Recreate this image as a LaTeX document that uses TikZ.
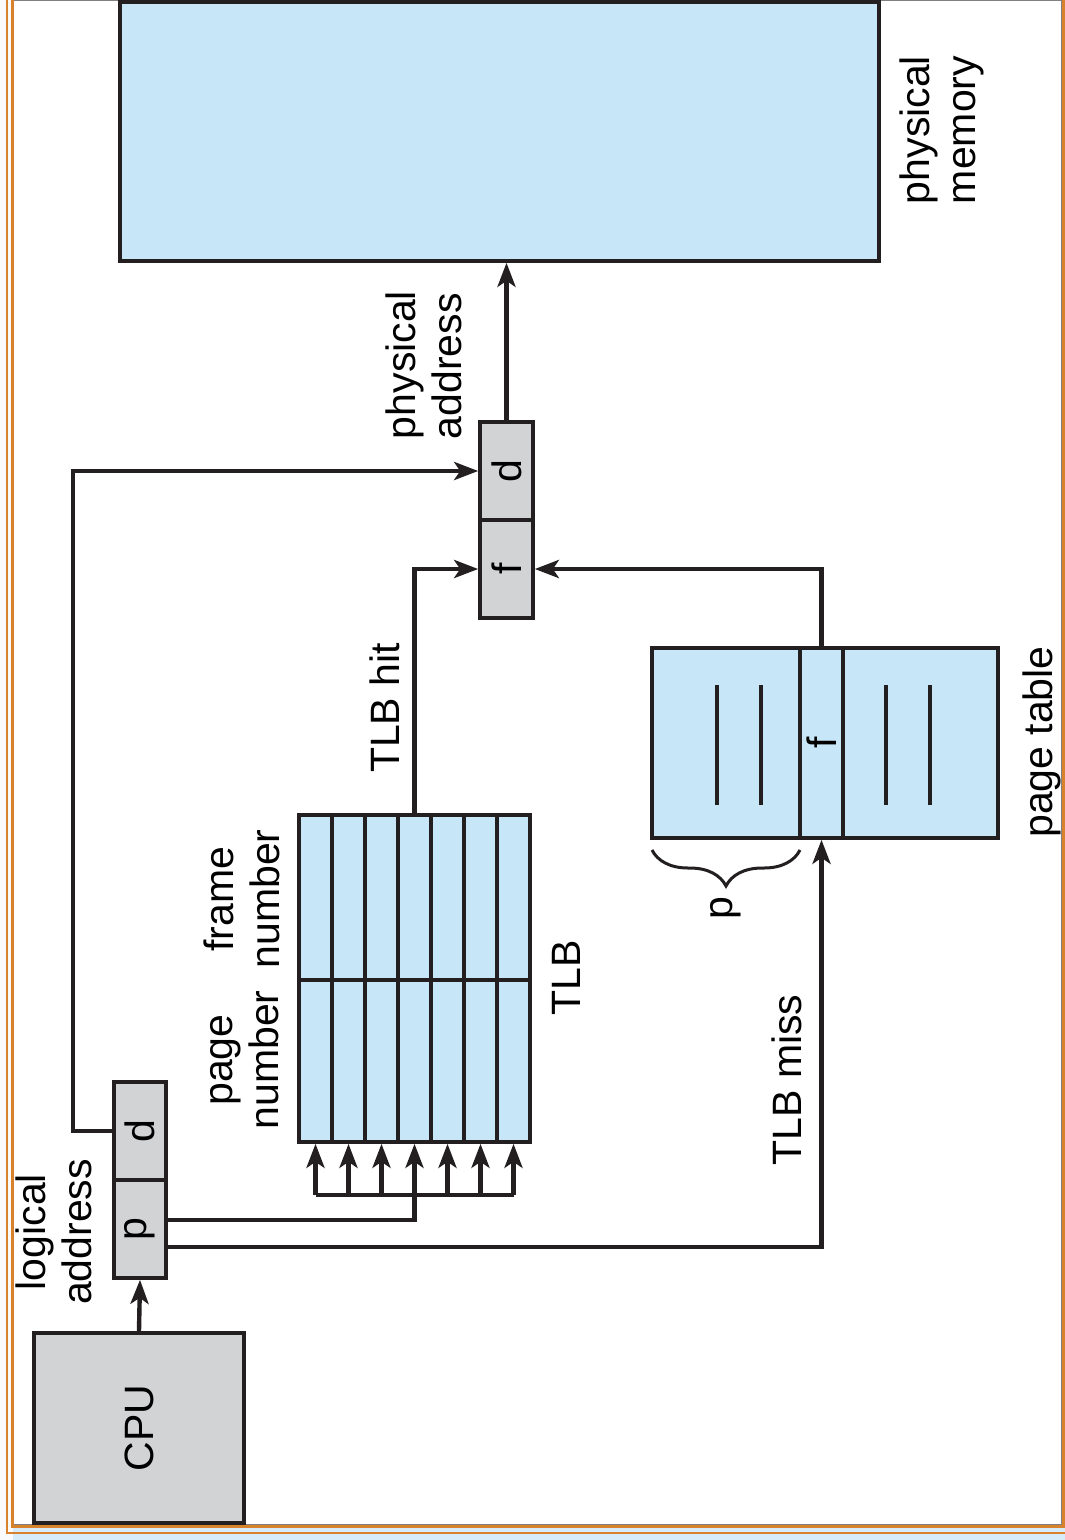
\documentclass[tikz,border=0pt]{standalone}
\usepackage{fontspec}
\setmainfont{Liberation Sans}
\usetikzlibrary{arrows.meta,decorations.pathreplacing}
\definecolor{lblue}{HTML}{C7E7F8}
\definecolor{lgray}{HTML}{D1D3D4}
\definecolor{ink}{HTML}{231F20}
\definecolor{frameor}{HTML}{D8822E}
\definecolor{edgeblue}{HTML}{D6EDF9}
\begin{document}
\begin{tikzpicture}[x=1pt,y=-1pt,
  box/.style={draw=ink,line width=3.6pt,inner sep=0pt,anchor=center},
  bluebox/.style={box,fill=lblue},
  graybox/.style={box,fill=lgray},
  lbl/.style={font=\fontsize{41}{46}\selectfont,inner sep=0pt,rotate=90},
  wire/.style={draw=ink,line width=4.4pt},
  arr/.style={wire,-{Stealth[length=24pt,width=18pt,inset=6pt]}},
  orline/.style={draw=frameor,line width=2.5pt}
]
\useasboundingbox (0,0) rectangle (1065,1540);
% background and frame
\fill[white!96!gray] (0,0) rectangle (1065,1540);
\fill[edgeblue] (13,1528) rectangle (1065,1540);
\fill[white] (13,0) rectangle (1062,1525);
\draw[gray,line width=1pt] (13,0.5) -- (1061,0.5) -- (1061,1524) -- (13,1524);
\draw[orline] (12.5,0) -- (12.5,1526.5) -- (1063.5,1526.5) -- (1063.5,0);
\draw[orline] (7,0) -- (7,1533) -- (1065,1533);

% physical memory
\node[bluebox,minimum width=759pt,minimum height=259pt] (mem) at (499.5,131.5) {};
\node[lbl,align=left] (memlbl) at (942,130) {physical\\memory};

% physical address
\node[graybox,minimum width=53pt,minimum height=98pt] (pad) at (506.5,471) {};
\node[graybox,minimum width=53pt,minimum height=98pt] (paf) at (506.5,569) {};
\node[lbl] at (pad) {d};
\node[lbl] at (paf) {f};
\node[lbl,align=left] (palbl) at (424,365) {physical\\address};

% CPU and logical address
\node[graybox,minimum width=210pt,minimum height=190pt] (cpu) at (139,1428) {};
\node[lbl] at (cpu) {CPU};
\node[graybox,minimum width=52pt,minimum height=98pt] (ld) at (140,1131) {};
\node[graybox,minimum width=52pt,minimum height=98pt] (lp) at (140,1229) {};
\node[lbl] at (ld) {d};
\node[lbl] at (lp) {p};
\node[lbl,align=center] (lalbl) at (54,1232) {logical\\address};

% TLB
\foreach \i in {1,...,7}
  \node[bluebox,minimum width=33pt,minimum height=327pt] (t\i) at ({299+33*(\i-0.5)},978.5) {};
\node[box,minimum width=231pt,minimum height=327pt] (tlb) at (414.5,978.5) {};
\draw[draw=ink,line width=3.6pt] (tlb.west |- 0,980) -- (tlb.east |- 0,980);
\node[lbl,align=center] (pnlbl) at (245,1060) {page\\number};
\node[lbl,align=center] (fnlbl) at (242,899) {frame\\number};
\node[lbl] (tlblbl) at (566,978) {TLB};

% page table
\node[bluebox,minimum width=148pt,minimum height=190pt] (ptl) at (726,743) {};
\node[bluebox,minimum width=43pt,minimum height=190pt] (ptf) at (821.5,743) {};
\node[bluebox,minimum width=155pt,minimum height=190pt] (ptr) at (920.5,743) {};
\node[lbl] at (ptf) {f};
\foreach \x in {717,761,886,930}
  \draw[draw=ink,line width=3.4pt] (\x,685) -- (\x,805);
\draw[draw=ink,line width=3pt,decorate,decoration={brace,amplitude=36pt}] (800,850) -- (652,850);
\node[lbl] (plbl) at (726,908) {p};
\node[lbl] (ptlbl) at (1042,742) {page table};

% connectors
\draw[arr] (cpu.north) -- (lp.south);
\coordinate (lc) at (73,1131);
\draw[arr] (ld.west) -- (lc) |- (pad.west);
\draw[arr] (pad.north) -- (pad.north |- mem.south);
\coordinate (bus) at (414.5,1195);
\coordinate (hp) at (414.5,1220);
\draw[wire] (t1.south |- bus) -- (t7.south |- bus);
\foreach \i in {1,...,7}
  \draw[arr] (t\i.south |- bus) -- (t\i.south);
\draw[wire] (lp.east |- hp) -- (hp) -- (bus);
\coordinate (mp) at (821.5,1247);
\draw[arr] (lp.east |- mp) -- (mp) -- (ptf.south);
\draw[arr] (t4.north) |- (paf.west);
\draw[arr] (ptf.north) |- (paf.east);
\node[lbl] (hitlbl) at (385,708) {TLB hit};
\node[lbl] (misslbl) at (787,1080) {TLB miss};
\end{tikzpicture}
\end{document}
